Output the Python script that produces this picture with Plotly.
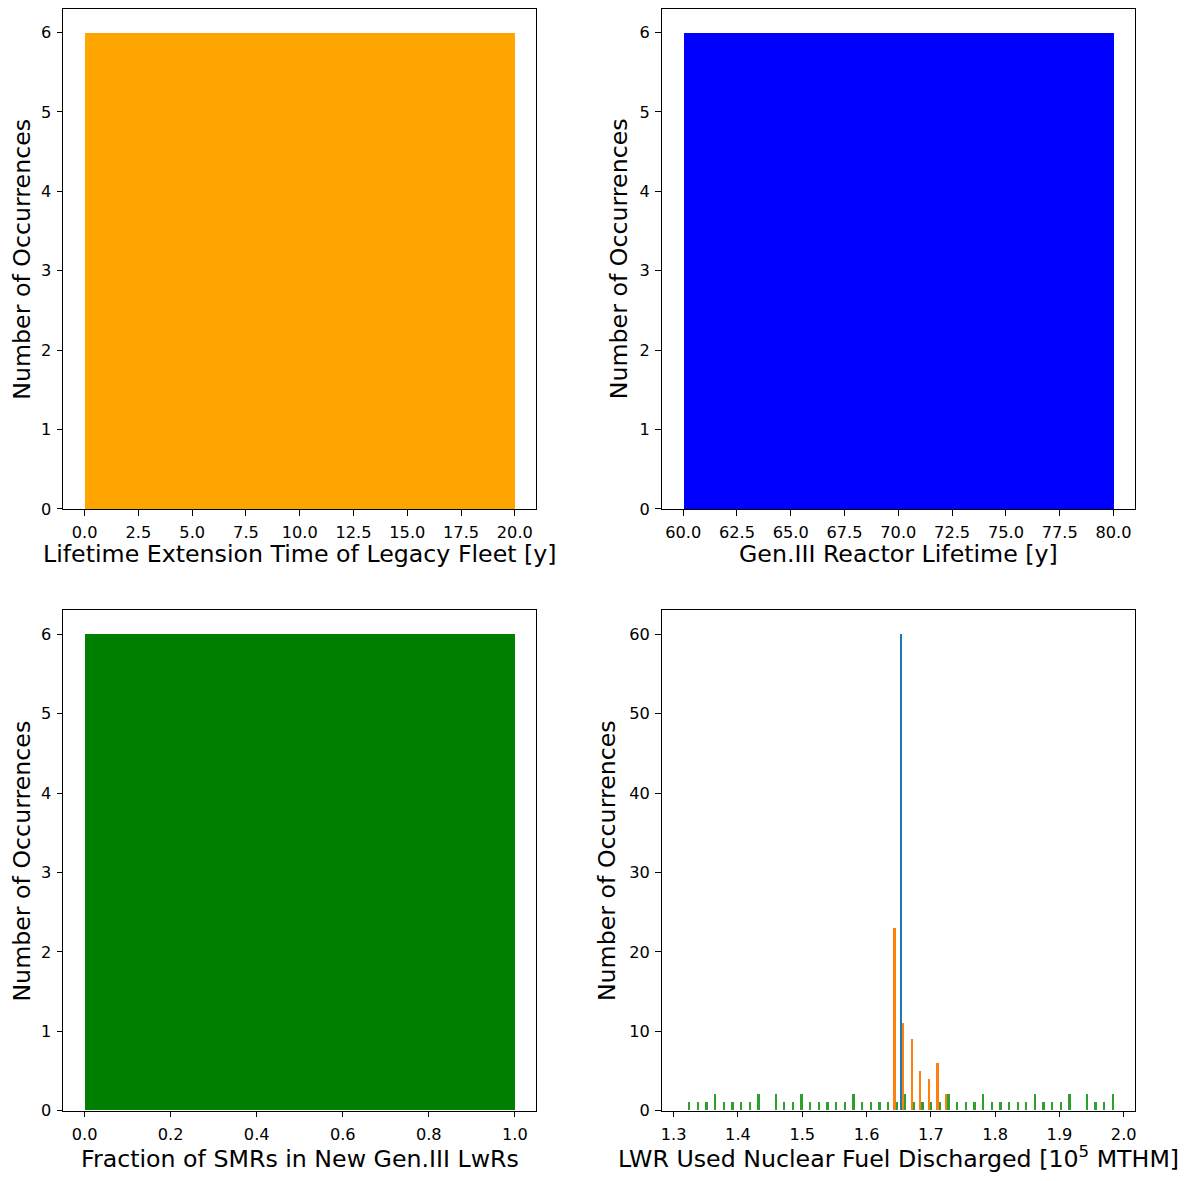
import numpy as np
import plotly.graph_objects as go

# ---------------- data ----------------
# Panels 1-3: single-bin histograms (bin edges, counts)
ext_edges = [0.0, 20.0]
ext_counts = [6]
gen3_edges = [60.0, 80.0]
gen3_counts = [6]
smr_edges = [0.0, 1.0]
smr_counts = [6]

# Panel 4: 50-bin histogram of three series
fuel_bin_min = 1.3134
fuel_bin_max = 1.9854
fuel_n_bins = 50
fuel_blue = [0] * 25 + [60] + [0] * 24
fuel_orange = [0] * 24 + [23, 11, 9, 5, 4, 6, 2] + [0] * 19
fuel_green = [1, 1, 1, 2, 1, 1, 1, 1, 2, 0, 2, 1, 1,
              2, 1, 1, 1, 1, 1, 2, 1, 1, 1, 1, 1, 2, 1,
              1, 1, 1, 2, 1, 1, 1, 2, 1, 1, 1, 1,
              1, 2, 1, 1, 1, 2, 0, 2, 1, 1, 2]

xlabels = ["Lifetime Extension Time of Legacy Fleet [y]",
           "Gen.III Reactor Lifetime [y]",
           "Fraction of SMRs in New Gen.III LwRs",
           "LWR Used Nuclear Fuel Discharged [10<sup>5</sup> MTHM]"]
ylabel = "Number of Occurrences"

# ---------------- figure ----------------
W, H = 1188, 1181
FONT = "DejaVu Sans"
fig = go.Figure()


def px_x(p):
    return p / W


def px_y(p):
    return 1 - p / H


def single_hist(edges, counts, color, xa, ya):
    e = np.asarray(edges)
    fig.add_trace(go.Bar(x=(e[:-1] + e[1:]) / 2, y=counts, width=np.diff(e),
                         marker=dict(color=color, line=dict(width=0)),
                         xaxis=xa, yaxis=ya, showlegend=False))


single_hist(ext_edges, ext_counts, "#FFA500", "x", "y")
single_hist(gen3_edges, gen3_counts, "#0000FF", "x2", "y2")
single_hist(smr_edges, smr_counts, "#008000", "x3", "y3")

edges = np.linspace(fuel_bin_min, fuel_bin_max, fuel_n_bins + 1)
bw = np.diff(edges)
nx = 3
dr = 0.8
bar_w = dr * bw / nx
offset = -0.5 * dr * bw * (1 - 1 / nx) + 0.5 * bw
for series, color in [(fuel_blue, "#1f77b4"), (fuel_orange, "#ff7f0e"), (fuel_green, "#2ca02c")]:
    fig.add_trace(go.Bar(x=edges[:-1] + offset, y=series, width=bar_w,
                         marker=dict(color=color, line=dict(width=0)),
                         xaxis="x4", yaxis="y4", showlegend=False))
    offset = offset + bar_w

# domains (pixel-measured)
xd_left = [px_x(62.3), px_x(536.7)]
xd_right = [px_x(662.3), px_x(1136.9)]
yd_top = [px_y(513.3), px_y(8.7)]
yd_bot = [px_y(1120.3), px_y(615.7)]

axis_common = dict(showline=True, linecolor="black", linewidth=1.1, mirror=True,
                   ticks="outside", ticklen=5.5, tickwidth=1.1, tickcolor="black",
                   showgrid=False, zeroline=False,
                   tickfont=dict(family=FONT, size=16.2, color="black"))
yax_extra = dict(ticklabelstandoff=2)
xax_extra = dict(ticklabelstandoff=3)

fig.update_layout(
    width=W, height=H,
    margin=dict(l=0, r=0, t=0, b=0),
    paper_bgcolor="white", plot_bgcolor="white",
    barmode="overlay", bargap=0,
    font=dict(family=FONT, color="black"),
    xaxis=dict(domain=xd_left, anchor="y", range=[-1, 21], tickvals=list(np.arange(0, 20.01, 2.5)),
               tickformat=".1f", **axis_common, **xax_extra),
    yaxis=dict(domain=yd_top, anchor="x", range=[0, 6.3], tickvals=[0, 1, 2, 3, 4, 5, 6],
               **axis_common, **yax_extra),
    xaxis2=dict(domain=xd_right, anchor="y2", range=[59, 81], tickvals=list(np.arange(60, 80.01, 2.5)),
                tickformat=".1f", **axis_common, **xax_extra),
    yaxis2=dict(domain=yd_top, anchor="x2", range=[0, 6.3], tickvals=[0, 1, 2, 3, 4, 5, 6],
                **axis_common, **yax_extra),
    xaxis3=dict(domain=xd_left, anchor="y3", range=[-0.05, 1.05], tickvals=[0, 0.2, 0.4, 0.6, 0.8, 1.0],
                tickformat=".1f", **axis_common, **xax_extra),
    yaxis3=dict(domain=yd_bot, anchor="x3", range=[0, 6.3], tickvals=[0, 1, 2, 3, 4, 5, 6],
                **axis_common, **yax_extra),
    xaxis4=dict(domain=xd_right, anchor="y4", range=[1.28128, 2.01754],
                tickvals=[1.3, 1.4, 1.5, 1.6, 1.7, 1.8, 1.9, 2.0], tickformat=".1f",
                **axis_common, **xax_extra),
    yaxis4=dict(domain=yd_bot, anchor="x4", range=[0, 63], tickvals=[0, 10, 20, 30, 40, 50, 60],
                **axis_common, **yax_extra),
)

title_font = dict(family=FONT, size=23.7, color="black")
ann = []
# x labels
for txt, cx, cy in [(xlabels[0], 299.5, 559.1), (xlabels[1], 899.5, 559.1),
                    (xlabels[2], 299.5, 1169.1), (xlabels[3], 899.5, 1167.4)]:
    ann.append(dict(text=txt, x=px_x(cx), y=px_y(cy), xref="paper", yref="paper",
                    xanchor="center", yanchor="middle", showarrow=False, font=title_font))
# y labels
for cx, cy in [(21, 261), (619, 261), (21, 868), (607, 868)]:
    ann.append(dict(text=ylabel, x=px_x(cx), y=px_y(cy), xref="paper", yref="paper",
                    xanchor="center", yanchor="middle", showarrow=False, textangle=-90, font=title_font))
fig.update_layout(annotations=ann)

fig.write_html(
    "out.html",
    config={"displayModeBar": False},
    post_script=("document.body.style.margin='0';"
                 "document.body.style.overflow='hidden';"
                 "document.documentElement.style.overflow='hidden';"),
)
